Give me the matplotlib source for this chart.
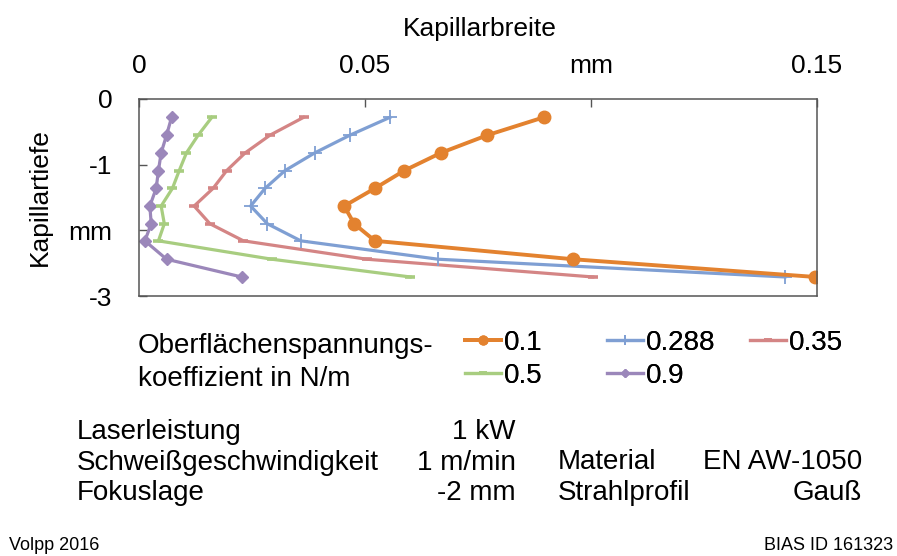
import matplotlib
matplotlib.use("Agg")
import matplotlib.pyplot as plt

plt.rcParams['font.family'] = ['Liberation Sans', 'DejaVu Sans']

# Kapillartiefe (mm), shared by all series
depth = [-0.28, -0.55, -0.82, -1.09, -1.36, -1.63, -1.90, -2.16, -2.44, -2.71]

# Kapillarbreite (mm) per surface tension coefficient (N/m)
width_01 = [0.0895, 0.0771, 0.0668, 0.0587, 0.0522, 0.0454, 0.0476, 0.0522, 0.0960, 0.1496]
width_0288 = [0.0555, 0.0467, 0.0389, 0.0323, 0.0279, 0.0247, 0.0284, 0.0358, 0.0662, 0.1429]
width_035 = [0.0364, 0.0290, 0.0235, 0.0194, 0.0164, 0.0122, 0.0157, 0.0231, 0.0504, 0.1004]
width_05 = [0.0161, 0.0131, 0.0105, 0.0089, 0.0074, 0.0049, 0.0056, 0.0043, 0.0294, 0.0600]
width_09 = [0.0072, 0.0061, 0.0049, 0.0043, 0.0038, 0.0024, 0.0027, 0.0013, 0.0061, 0.0227]

labels = ['0.1', '0.288', '0.35', '0.5', '0.9']

x_ticks = [0, 0.05, 0.10, 0.15]
x_ticklabels = ['0', '0.05', 'mm', '0.15']
y_ticks = [0, -1, -2, -3]
y_ticklabels = ['0', '-1', 'mm', '-3']

params_left = [('Laserleistung', '1 kW'),
               ('Schweißgeschwindigkeit', '1 m/min'),
               ('Fokuslage', '-2 mm')]
params_right = [('Material', 'EN AW-1050'),
                ('Strahlprofil', 'Gauß')]

W, H = 897, 556
fig = plt.figure(figsize=(W / 100, H / 100), dpi=100)
ax = fig.add_axes([139 / W, 1 - 296 / H, 678 / W, 197 / H])

styles = {
    '0.1':   dict(color='#e3822f', marker='o', ms=9, lw=2.8),
    '0.288': dict(color='#7f9fd3', marker='+', ms=10, mew=1.3, lw=2.3),
    '0.35':  dict(color='#d48585', marker='_', ms=7.5, mew=2.6, lw=2.3),
    '0.5':   dict(color='#a8cd80', marker='_', ms=7.5, mew=2.6, lw=2.3),
    '0.9':   dict(color='#9b87ba', marker='D', ms=6.5, lw=2.3),
}
series = dict(zip(labels, [width_01, width_0288, width_035, width_05, width_09]))

handles = {}
# draw from the thinnest profile up, so 0.1 ends up on top
for lab in labels[::-1]:
    line, = ax.plot(series[lab], depth, label=lab, **styles[lab])
    handles[lab] = line

ax.set_xlim(0, 0.15)
ax.set_ylim(-3, 0)
ax.xaxis.tick_top()
ax.set_xticks(x_ticks)
ax.set_xticklabels(x_ticklabels)
ax.set_yticks(y_ticks)
ax.set_yticklabels(y_ticklabels)
ax.tick_params(axis='x', direction='in', length=6, width=1, color='#555555',
               labelsize=19, pad=15)
ax.tick_params(axis='y', direction='in', length=6, width=1, color='#555555',
               labelsize=19, pad=19)
for sp in ax.spines.values():
    sp.set_color('#555555')
    sp.set_linewidth(1.1)

ax.set_xlabel('Kapillarbreite', fontsize=19)
ax.xaxis.set_label_position('top')
ax.xaxis.set_label_coords((480 - 139) / 678, (296 - 36) / 197)
ax.set_ylabel('Kapillartiefe', fontsize=19)
ax.yaxis.set_label_coords((52 - 139) / 678, 0.5)

# legend, three columns laid out on a fixed grid
fig.text(138 / W, 1 - 346 / H, 'Oberflächenspannungs-', fontsize=20, va='center')
fig.text(138 / W, 1 - 379 / H, 'koeffizient in N/m', fontsize=20, va='center')
columns = [(['0.1', '0.5'], 465), (['0.288', '0.9'], 607), (['0.35'], 750)]
for labs, x0 in columns:
    leg = fig.legend([handles[l] for l in labs], labs, loc='upper left',
                     bbox_to_anchor=(x0 / W, 1 - 330 / H), frameon=False,
                     fontsize=20, handlelength=1.3, handletextpad=0.1,
                     borderaxespad=0, borderpad=0, labelspacing=0.25,
                     markerscale=0.7)
    fig.add_artist(leg)

# process parameters
for i, (name, val) in enumerate(params_left):
    y = 1 - (432 + 30.5 * i) / H
    fig.text(77 / W, y, name, fontsize=20, va='center')
    fig.text(516 / W, y, val, fontsize=20, va='center', ha='right')
for i, (name, val) in enumerate(params_right):
    y = 1 - (462 + 30.5 * i) / H
    fig.text(558 / W, y, name, fontsize=20, va='center')
    fig.text(862 / W, y, val, fontsize=20, va='center', ha='right')

fig.text(9 / W, 1 - 545 / H, 'Volpp 2016', fontsize=13, va='center')
fig.text(893 / W, 1 - 545 / H, 'BIAS ID 161323', fontsize=13, va='center', ha='right')

fig.savefig('out.png', dpi=100)
